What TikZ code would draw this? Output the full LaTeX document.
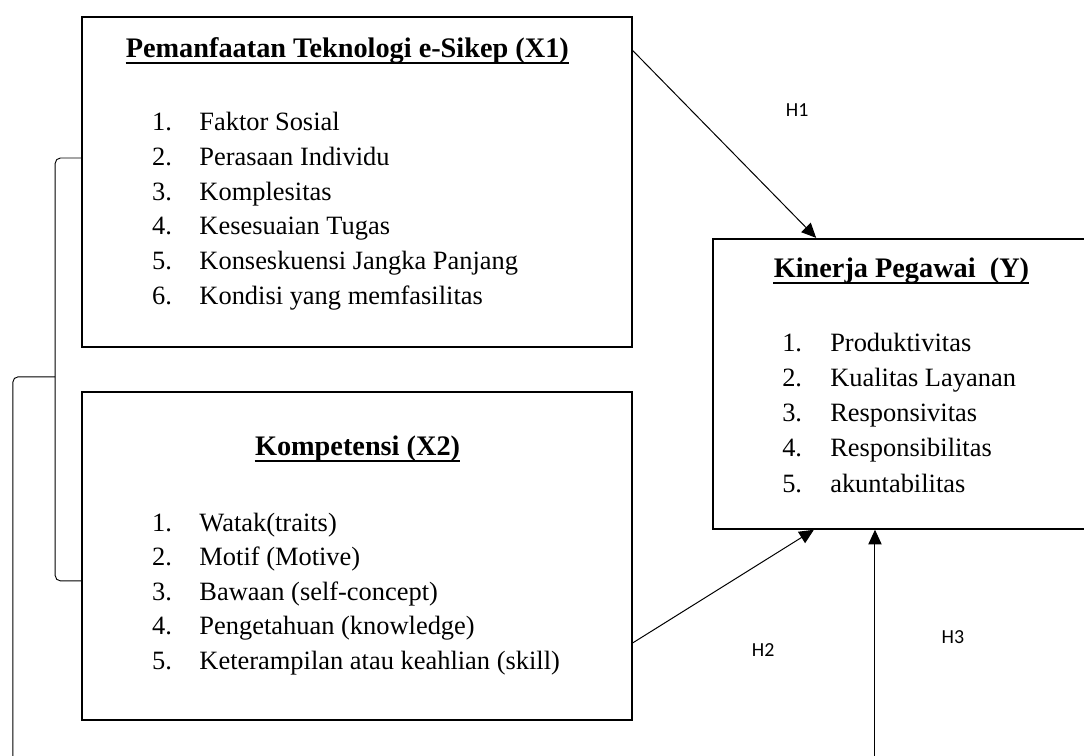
\documentclass[tikz,border=0pt]{standalone}
\usepackage{fontspec}
\setmainfont{Liberation Serif}
\newfontfamily\hypfont{Carlito}
\usetikzlibrary{arrows.meta,calc}
\tikzset{varbox/.style={draw,line width=1.5pt,inner sep=0pt},
title/.style={anchor=base,inner sep=0pt,font=\fontsize{21.3}{25}\selectfont\bfseries},
uline/.style={draw,line width=1.5pt},
itemnum/.style={anchor=base west,inner sep=0pt,font=\fontsize{19.9}{24}\selectfont},
itemtext/.style={anchor=base west,inner sep=0pt,font=\fontsize{19.9}{24}\selectfont},
link/.style={draw,line width=0.75pt,-{Triangle[length=11pt,width=10pt]}},
hyp/.style={font=\hypfont\fontsize{15}{18}\selectfont},
brace/.style={draw,line width=0.7pt,rounded corners=4pt}}
\begin{document}
\begin{tikzpicture}[x=1cm,y=1cm]
\fill[white] (0,0) rectangle (28.68,20.0);
\useasboundingbox (0,0) rectangle (28.68,20.0);
% variable boxes
\node[varbox,minimum width=14.55cm,minimum height=8.73cm] (x1) at (9.445,15.185) {};
\node[varbox,minimum width=14.55cm,minimum height=8.68cm] (x2) at (9.445,5.29) {};
\node[varbox,minimum width=10.01cm,minimum height=7.67cm] (yk) at (23.865,9.845) {};
% titles
\node[title] (t1) at (9.19,18.49) {Pemanfaatan Teknologi e-Sikep (X1)};
\node[title] (t2) at (9.46,7.94) {Kompetensi (X2)};
\node[title] (t3) at (23.85,12.67) {Kinerja Pegawai\ \ (Y)};
\foreach \t in {t1,t2,t3} \draw[uline] ($(\t.base west)+(0,-0.15)$) -- ($(\t.base east)+(0,-0.15)$);
% indicators
\foreach \txt [count=\i] in {Faktor Sosial,Perasaan Individu,Komplesitas,Kesesuaian Tugas,Konseskuensi Jangka Panjang,Kondisi yang memfasilitas}{
  \node[itemnum] (a\i) at (4.02,{16.54-0.918*(\i-1)}) {\i.};
  \node[itemtext] (p\i) at (5.27,{16.54-0.918*(\i-1)}) {\txt};}
\foreach \txt [count=\i] in {Watak(traits),Motif (Motive),Bawaan (self-concept),Pengetahuan (knowledge),Keterampilan atau keahlian (skill)}{
  \node[itemnum] (b\i) at (4.02,{5.95-0.915*(\i-1)}) {\i.};
  \node[itemtext] (k\i) at (5.27,{5.95-0.915*(\i-1)}) {\txt};}
\foreach \txt [count=\i] in {Produktivitas,Kualitas Layanan,Responsivitas,Responsibilitas,akuntabilitas}{
  \node[itemnum] (c\i) at (20.69,{10.69-0.927*(\i-1)}) {\i.};
  \node[itemtext] (y\i) at (21.96,{10.69-0.927*(\i-1)}) {\txt};}
% hypotheses
\coordinate (h3foot) at (23.15,0);
\draw[link] ($(x1.north east)+(0,-0.92)$) -- ($(yk.north west)+(2.76,0)$);
\draw[link] ($(x2.south east)+(0,2.07)$) -- ($(yk.south west)+(2.70,0)$);
\draw[link] (h3foot) -- (h3foot |- yk.south);
\node[hyp] (h1) at (21.09,17.09) {H1};
\node[hyp] (h2) at (20.19,2.80) {H2};
\node[hyp] (h3) at (25.21,3.15) {H3};
% bracket between X1 and X2
\draw[brace] ($(x1.west)+(0,0.635)$) -- (1.46,15.82) -- (1.46,4.63) -- ($(x2.west)+(0,-0.66)$);
\draw[brace] (1.46,10.03) -- (0.34,10.03) -- (0.34,0);
\end{tikzpicture}
\end{document}
